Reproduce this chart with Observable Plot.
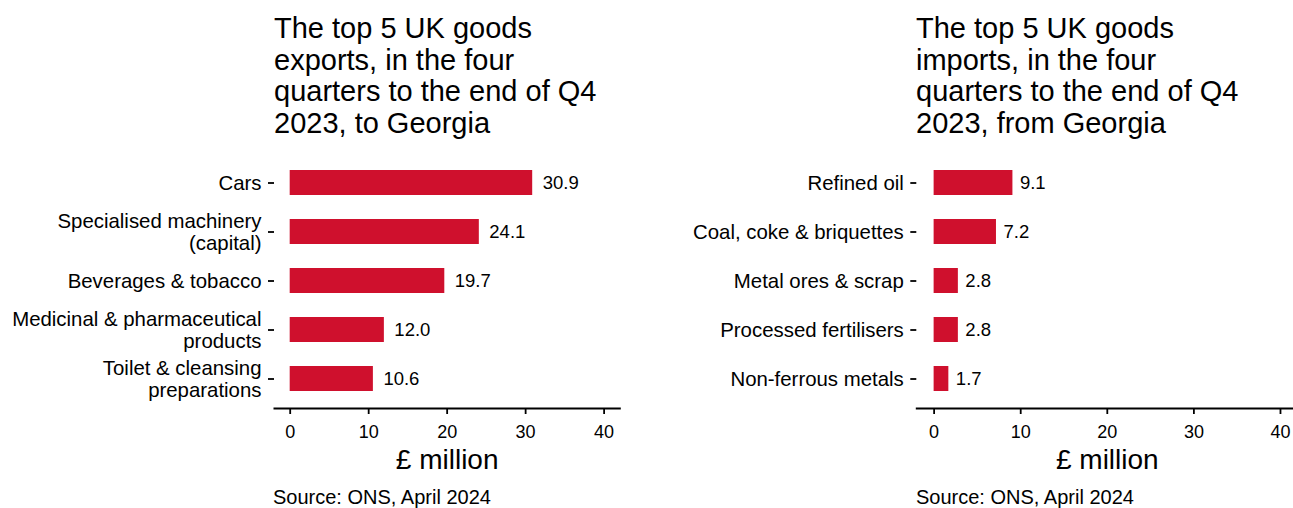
<!DOCTYPE html>
<html>
<head>
<meta charset="utf-8">
<script src="https://cdn.jsdelivr.net/npm/d3@7"></script>
<script src="https://cdn.jsdelivr.net/npm/@observablehq/plot@0.6"></script>
<style>
  html, body { margin: 0; padding: 0; background: #fff; }
  body { width: 1293px; height: 508px; overflow: hidden; position: relative;
         font-family: "Liberation Sans", Arial, sans-serif; color: #000; }
  .title { position: absolute; top: 13px; font-size: 29px; line-height: 31.7px; white-space: pre-line; }
  .source { position: absolute; top: 485px; font-size: 20px; line-height: 24px; }
  .panel { position: absolute; top: 0; width: 700px; }
  .panel svg { overflow: visible; max-width: none !important; }
</style>
</head>
<body>
<script>
// ---- data ----
const exportCategories = ["Cars", "Specialised machinery\n(capital)", "Beverages & tobacco", "Medicinal & pharmaceutical\nproducts", "Toilet & cleansing\npreparations"];
const exportValues = [30.9, 24.1, 19.7, 12.0, 10.6];
const importCategories = ["Refined oil", "Coal, coke & briquettes", "Metal ores & scrap", "Processed fertilisers", "Non-ferrous metals"];
const importValues = [9.1, 7.2, 2.8, 2.8, 1.7];
const xTicks = [0, 10, 20, 30, 40];
const exportTitle = "The top 5 UK goods\nexports, in the four\nquarters to the end of Q4\n2023, to Georgia";
const importTitle = "The top 5 UK goods\nimports, in the four\nquarters to the end of Q4\n2023, from Georgia";
const sourceText = "Source: ONS, April 2024";
const axisLabel = "£ million";

const barColor = "#cf102d";

function addText(cls, text, left) {
  const d = document.createElement("div");
  d.className = cls;
  d.textContent = text;
  d.style.left = left + "px";
  document.body.appendChild(d);
}

function makePanel(cats, vals, {left, width, marginLeft, marginRight, labelDx}) {
  const data = cats.map((c, i) => ({cat: c, value: vals[i]}));
  const chart = Plot.plot({
    width,
    height: 508,
    marginLeft,
    marginRight,
    marginTop: 151.5,
    marginBottom: 100,
    style: {fontFamily: "Liberation Sans, Arial, sans-serif", color: "#000", background: "transparent"},
    x: {domain: [-2, 42], label: null},
    y: {domain: cats, paddingInner: 0.5, paddingOuter: 0.347, label: null},
    marks: [
      Plot.barX(data, {x: "value", y: "cat", fill: barColor}),
      Plot.text(data, {x: "value", y: "cat", text: d => d.value.toFixed(1), textAnchor: "start", dx: labelDx, fontSize: 18.5, fill: "#000"}),
      Plot.axisY({tickSize: 6, tickPadding: 7, fontSize: 20.4, lineHeight: 1.1, label: null, strokeWidth: 1.8}),
      Plot.axisX({ticks: xTicks, tickSize: 6, tickPadding: 11, fontSize: 18, label: null, strokeWidth: 1.8}),
      Plot.frame({anchor: "bottom", stroke: "#000", strokeWidth: 2}),
      Plot.text([axisLabel], {text: d => d, frameAnchor: "bottom", lineAnchor: "top", dy: 40.6, fontSize: 28, fill: "#000"})
    ]
  });
  const wrap = document.createElement("div");
  wrap.className = "panel";
  wrap.style.left = left + "px";
  wrap.appendChild(chart);
  document.body.appendChild(wrap);
}

makePanel(exportCategories, exportValues, {left: 0, width: 640, marginLeft: 274, marginRight: 20.7, labelDx: 10});
makePanel(importCategories, importValues, {left: 640, width: 660, marginLeft: 276.3, marginRight: 2.7, labelDx: 7});

addText("title", exportTitle, 274);
addText("title", importTitle, 916);
addText("source", sourceText, 273);
addText("source", sourceText, 916);
</script>
</body>
</html>
